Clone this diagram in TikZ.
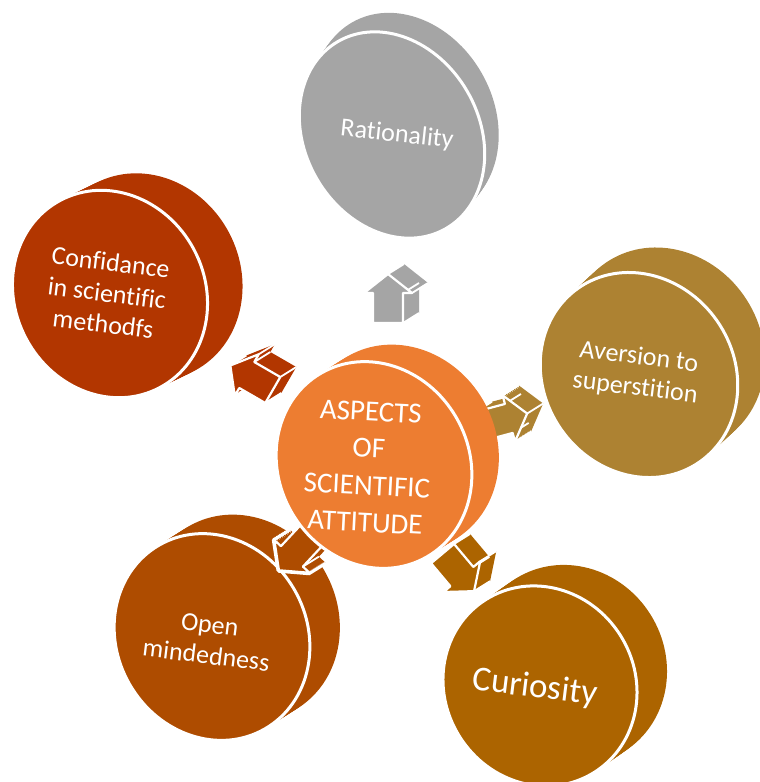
\documentclass[tikz,border=0pt]{standalone}
\usepackage{fontspec}
\setmainfont{Carlito}[Ligatures=NoCommon]
\usetikzlibrary{calc}

\definecolor{cCenter}{HTML}{ED7D31}
\definecolor{cRat}{HTML}{A5A5A5}
\definecolor{cConf}{HTML}{B23600}
\definecolor{cAver}{HTML}{AD8232}
\definecolor{cOpen}{HTML}{AE4C00}
\definecolor{cCur}{HTML}{AC6400}

% extruded disc: #1 colour, #2,#3 centre of the front face, #4,#5 radii,
% #6 tilt, #7,#8 depth offset towards the back face
\newcommand{\DiscBody}[8]{%
  \foreach \t in {0,...,10}{%
    \fill[#1, shift={({#2+#7*\t/10},{#3+#8*\t/10})}, rotate=#6]
      (0,0) ellipse [x radius=#4, y radius=#5];
  }
  \fill[#1, draw=white, line width=3, shift={(#2,#3)}, rotate=#6]
    (0,0) ellipse [x radius=#4, y radius=#5];
}

% outline of a block arrow pointing along local +x, centred on the origin
\newcommand{\ArrowPath}{(-24,-15) -- (6,-15) -- (6,-24) -- (25,0) -- (6,24) -- (6,15) -- (-24,15) -- cycle}

% extruded block arrow: #1 colour, #2,#3 centre, #4 direction
\newcommand{\BlockArrow}[4]{%
  \foreach \t in {0,...,10}{%
    \draw[white, line width=5, line join=round,
      shift={({#2+1.6*\t},{#3-1.0*\t})}, rotate=#4] \ArrowPath;
  }
  \foreach \t in {0,...,10}{%
    \fill[#1, shift={({#2+1.6*\t},{#3-1.0*\t})}, rotate=#4] \ArrowPath;
  }
  \foreach \px/\py in {-24/-15,6/-15,6/-24,25/0,6/24,6/15,-24/15}{%
    \draw[white, line width=1.8]
      ([shift={(#2,#3)}, rotate=#4]\px,\py) -- ++(16,-10);
  }
  \fill[#1, draw=white, line width=2.2, line join=round,
    shift={(#2,#3)}, rotate=#4] \ArrowPath;
}

\tikzset{
  lbl/.style={text=white, align=center, inner sep=0pt,
    font=\fontsize{26}{31}\selectfont},
}

\begin{document}
\begin{tikzpicture}[x=1pt, y=-1pt]
  \useasboundingbox (0,0) rectangle (760,782);
  \clip (0,0) rectangle (760,782);

  % outer discs
  \DiscBody{cConf}{110}{294}{95}{106}{28}{35}{-17}
  \DiscBody{cRat}{392}{135}{87}{108}{30}{14}{-19}
  \DiscBody{cAver}{639}{375}{95}{106}{35}{27}{-25}
  \DiscBody{cOpen}{212}{637}{95}{106}{30}{30}{-19}
  \DiscBody{cCur}{540}{686}{95}{102}{32}{30}{-21}

  % arrows from the centre outwards
  \BlockArrow{cRat}{388}{299}{90}
  \BlockArrow{cConf}{252}{378}{150}
  \BlockArrow{cAver}{503}{420}{15}
  \BlockArrow{cCur}{458}{572}{-50}
  \BlockArrow{cOpen}{296}{552}{-133}

  % central disc
  \DiscBody{cCenter}{374}{465}{95}{106}{30}{27}{-17}

  % labels
  \node[lbl, font=\fontsize{29}{37}\selectfont, rotate=-3] (center) at (368,467)
    {ASPECTS\\OF\\SCIENTIFIC\\ATTITUDE};
  \node[lbl, rotate=-6] (rat) at (397,135) {Rationality};
  \node[lbl, rotate=-7] (conf) at (107,293) {Confidance\\in scientific\\methodfs};
  \node[lbl, rotate=-7] (aver) at (637,373) {Aversion to\\superstition};
  \node[lbl, rotate=-7] (open) at (208,640) {Open\\mindedness};
  \node[lbl, font=\fontsize{35}{40}\selectfont, rotate=-7] (cur) at (535,688) {Curiosity};
\end{tikzpicture}
\end{document}
